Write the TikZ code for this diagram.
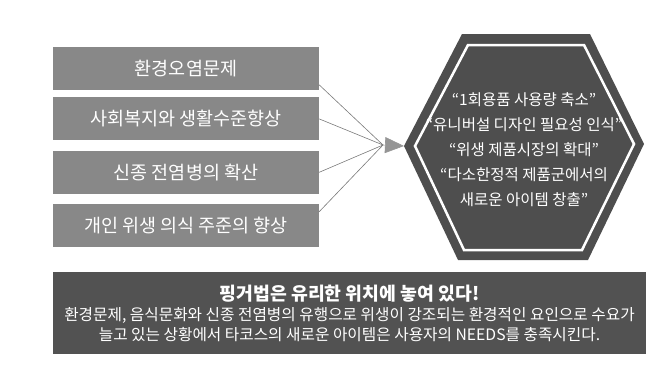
\documentclass[tikz,border=0pt]{standalone}
\usepackage{fontspec}
\setmainfont{Noto Sans CJK KR}
\usepackage{xcolor}
\usepackage{tikz}
\usetikzlibrary{arrows.meta, positioning}

\definecolor{boxgray}{HTML}{888888}
\definecolor{hexgray}{HTML}{4E4E4E}
\definecolor{bandgray}{HTML}{525252}
\definecolor{linegray}{HTML}{7A7A7A}
\definecolor{tipgray}{HTML}{959595}

\begin{document}
\begin{tikzpicture}[
    x=1pt, y=-1pt,
    factor/.style={rectangle, fill=boxgray, text=white, minimum height=43pt, minimum width=266pt, inner sep=0pt, font=\fontsize{18.5}{22}\selectfont},
    effect/.style={text=white, align=center, font=\fontsize{15.5}{25}\selectfont},
    banner/.style={rectangle, fill=bandgray, text=white, minimum height=82pt, minimum width=593pt, inner sep=0pt, align=center, font=\fontsize{15.7}{20}\selectfont},
    link/.style={draw=linegray, line width=0.6pt},
    arrow/.style={-{Triangle[length=19pt, width=16pt]}, draw=tipgray, line width=0.6pt}
]
\useasboundingbox (0,0) rectangle (648,365);

% Factors
\node[factor] (pollution) at (186,68.5) {환경오염문제};
\node[factor, below=7pt of pollution] (welfare) {사회복지와 생활수준향상};
\node[factor, below=10pt of welfare] (epidemic) {신종 전염병의 확산};
\node[factor, below=10pt of epidemic] (hygiene) {개인 위생 의식 주준의 향상};

% Hexagon
\coordinate (hexW) at (404,146);
\fill[hexgray] (hexW) -- (462,34) -- (590,34) -- (644,144) -- (588,260) -- (458,260) -- cycle;
\draw[white, line width=2.5pt] (415,146) -- (468,45) -- (584,45) -- (634,144) -- (582,250) -- (464,250) -- cycle;
\node[effect] (effects) at (524,150) {“1회용품 사용량 축소”\\“유니버설 디자인 필요성 인식”\\“위생 제품시장의 확대”\\“다소한정적 제품군에서의\\새로운 아이템 창출”};

% Arrows
\coordinate (meet) at (383,145);
\draw[link] (pollution.-7) -- (meet);
\draw[link] (welfare.east) -- (meet);
\draw[link] (epidemic.east) -- (meet);
\draw[link] (hygiene.6) -- (meet);
\draw[arrow] (meet) -- (hexW);

% Summary
\node[banner] (summary) at (349.5,313) {{\bfseries\fontsize{18.3}{22}\selectfont 핑거법은 유리한 위치에 놓여 있다!}\\환경문제, 음식문화와 신종 전염병의 유행으로 위생이 강조되는 환경적인 요인으로 수요가\\늘고 있는 상황에서 타코스의 새로운 아이템은 사용자의 NEEDS를 충족시킨다.};

\end{tikzpicture}
\end{document}
